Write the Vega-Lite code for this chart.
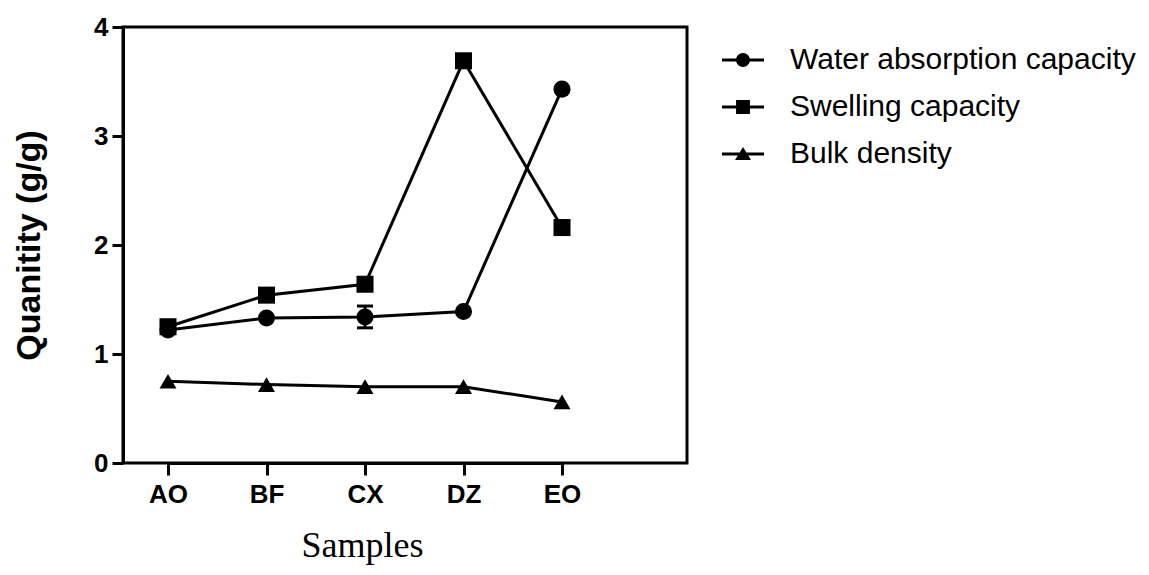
{
  "$schema": "https://vega.github.io/schema/vega-lite/v6.json",
  "width": 564,
  "height": 436,
  "autosize": {"type": "none"},
  "padding": {"left": 123, "top": 27, "right": 462, "bottom": 112},
  "background": "white",
  "config": {"view": {"stroke": "black", "strokeWidth": 3}, "font": "Liberation Sans"},
  "data": {"values": [
    {"sample": "AO", "series": "Water absorption capacity", "value": 1.22},
    {"sample": "BF", "series": "Water absorption capacity", "value": 1.33},
    {"sample": "CX", "series": "Water absorption capacity", "value": 1.34, "lo": 1.24, "hi": 1.44},
    {"sample": "DZ", "series": "Water absorption capacity", "value": 1.39},
    {"sample": "EO", "series": "Water absorption capacity", "value": 3.43},
    {"sample": "AO", "series": "Swelling capacity", "value": 1.25},
    {"sample": "BF", "series": "Swelling capacity", "value": 1.54},
    {"sample": "CX", "series": "Swelling capacity", "value": 1.64},
    {"sample": "DZ", "series": "Swelling capacity", "value": 3.69},
    {"sample": "EO", "series": "Swelling capacity", "value": 2.16},
    {"sample": "AO", "series": "Bulk density", "value": 0.75},
    {"sample": "BF", "series": "Bulk density", "value": 0.72},
    {"sample": "CX", "series": "Bulk density", "value": 0.70},
    {"sample": "DZ", "series": "Bulk density", "value": 0.70},
    {"sample": "EO", "series": "Bulk density", "value": 0.56}
  ]},
  "resolve": {"scale": {"shape": "independent"}, "legend": {"shape": "independent"}},
  "encoding": {
    "x": {
      "field": "sample", "type": "nominal", "sort": ["AO", "BF", "CX", "DZ", "EO"],
      "scale": {"type": "point", "range": [45, 439], "padding": 0},
      "axis": {
        "title": "Samples", "titleFont": "Liberation Serif", "titleFontSize": 36, "titleFontWeight": "normal",
        "titleColor": "black", "titleX": 239, "titleY": 93, "titleAlign": "center", "titleBaseline": "alphabetic",
        "labelFont": "Liberation Sans", "labelFontWeight": "bold", "labelFontSize": 26, "labelColor": "black",
        "labelAngle": 0, "labelPadding": 6, "tickSize": 12, "tickWidth": 3, "tickColor": "black",
        "domainWidth": 3, "domainColor": "black", "grid": false
      }
    }
  },
  "layer": [
    {
      "mark": {"type": "line", "color": "black", "strokeWidth": 3},
      "encoding": {
        "y": {"field": "value", "type": "quantitative", "scale": {"domain": [0, 4], "nice": false},
          "axis": {
            "title": "Quanitity (g/g)", "titleFont": "Liberation Sans", "titleFontSize": 34, "titleFontWeight": "bold",
            "titleColor": "black", "titleX": -94, "titleY": 218, "titleAngle": -90, "titleAlign": "center", "titleBaseline": "middle",
            "values": [0, 1, 2, 3, 4], "format": "d", "labelFont": "Liberation Sans", "labelFontWeight": "bold", "labelFontSize": 26,
            "labelColor": "black", "labelPadding": 4, "tickSize": 11, "tickWidth": 3, "tickColor": "black",
            "domainWidth": 3, "domainColor": "black", "grid": false
          }},
        "detail": {"field": "series", "type": "nominal"}
      }
    },
    {
      "transform": [{"filter": "isValid(datum.lo)"}],
      "mark": {"type": "rule", "color": "black", "strokeWidth": 3, "opacity": 1},
      "encoding": {
        "y": {"field": "lo", "type": "quantitative"},
        "y2": {"field": "hi"}
      }
    },
    {
      "transform": [{"filter": "isValid(datum.lo)"}],
      "mark": {"type": "tick", "color": "black", "thickness": 3, "size": 16, "orient": "horizontal", "opacity": 1},
      "encoding": {"y": {"field": "lo", "type": "quantitative"}}
    },
    {
      "transform": [{"filter": "isValid(datum.hi)"}],
      "mark": {"type": "tick", "color": "black", "thickness": 3, "size": 16, "orient": "horizontal", "opacity": 1},
      "encoding": {"y": {"field": "hi", "type": "quantitative"}}
    },
    {
      "mark": {"type": "point", "filled": true, "color": "black", "opacity": 1, "size": 290},
      "encoding": {
        "y": {"field": "value", "type": "quantitative"},
        "shape": {
          "field": "series", "type": "nominal",
          "scale": {"domain": ["Water absorption capacity", "Swelling capacity", "Bulk density"], "range": ["circle", "square", "triangle-up"]},
          "legend": null
        }
      }
    },
    {
      "mark": {"type": "point", "filled": true, "color": "black", "opacity": 0, "size": 1},
      "encoding": {
        "y": {"field": "value", "type": "quantitative"},
        "shape": {
          "field": "series", "type": "nominal",
          "scale": {"domain": ["Water absorption capacity", "Swelling capacity", "Bulk density"], "range": [
            "M-1,-0.07H1V0.07H-1Z M0.33,0A0.33,0.33 0 1,1 -0.33,0A0.33,0.33 0 1,1 0.33,0Z",
            "M-1,-0.07H1V0.07H-1Z M-0.33,-0.33H0.33V0.33H-0.33Z",
            "M-1,-0.07H1V0.07H-1Z M0,-0.33L0.38,0.28H-0.38Z"
          ]},
          "legend": {
            "title": null, "orient": "none", "legendX": 599, "legendY": 12, "padding": 0,
            "symbolSize": 1764, "symbolFillColor": "black", "symbolOpacity": 1, "symbolStrokeWidth": 0, "symbolStrokeColor": "black",
            "labelFont": "Liberation Sans", "labelFontSize": 30, "labelColor": "black", "labelOffset": 26,
            "rowPadding": 11, "labelLimit": 500
          }
        }
      }
    }
  ]
}
